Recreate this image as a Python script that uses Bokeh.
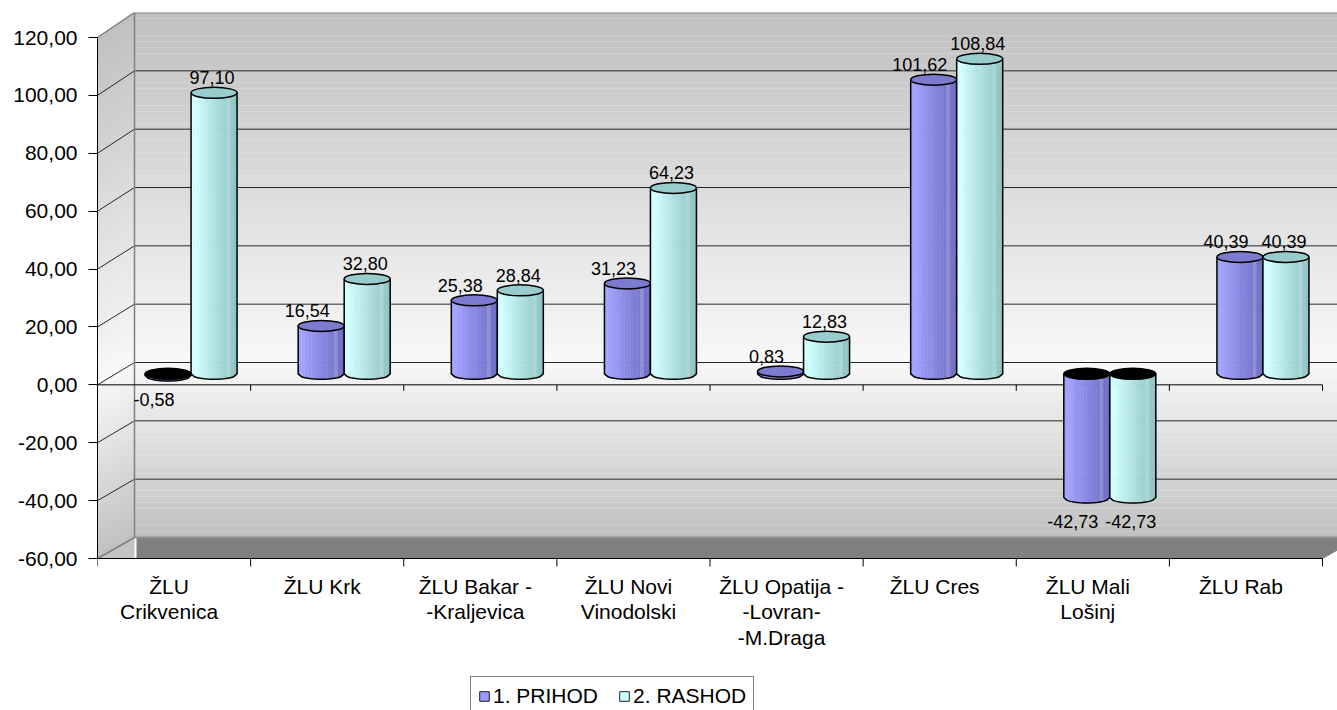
import numpy as np
from bokeh.plotting import figure
from bokeh.models import Range1d, FixedTicker, CustomJSTickFormatter, Legend, LegendItem
from bokeh.core.properties import value
from bokeh.embed import file_html
from bokeh.resources import INLINE

# ---------------- data ----------------
categories = ["ŽLU\nCrikvenica", "ŽLU Krk", "ŽLU Bakar -\n-Kraljevica", "ŽLU Novi\nVinodolski",
              "ŽLU Opatija -\n-Lovran-\n-M.Draga", "ŽLU Cres", "ŽLU Mali\nLošinj", "ŽLU Rab"]
prihod = [-0.58, 16.54, 25.38, 31.23, 0.83, 101.62, -42.73, 40.39]
rashod = [97.10, 32.80, 28.84, 64.23, 12.83, 108.84, -42.73, 40.39]
series_names = ["1. PRIHOD", "2. RASHOD"]
y_ticks = [-60, -40, -20, 0, 20, 40, 60, 80, 100, 120]

# ---------------- layout (pixels) ----------------
W, H = 1337, 710
BORDER_LEFT, BORDER_TOP = 97, 12
FRAME_W = W - BORDER_LEFT
FRAME_H = H - BORDER_TOP
PX_CAT = 153.125                 # pixels per category
Y_MIN, Y_MAX = y_ticks[0], y_ticks[-1]
PX_Y = 521.0 / (Y_MAX - Y_MIN)   # pixels per value unit (front plane)
BOTTOM_FROM_TOP = 546            # px from frame top to the front Y_MIN line
y_top = Y_MIN + BOTTOM_FROM_TOP / PX_Y
y_bot = Y_MIN - (FRAME_H - BOTTOM_FROM_TOP) / PX_Y
x_end = FRAME_W / PX_CAT
NCAT = len(categories)


def px_x(px):
    return px / PX_CAT


def px_y(px):
    return px / PX_Y


DEPTH_X = px_x(37)
BACK_PX_Y = 525.0 / (Y_MAX - Y_MIN)


def depth_y(v):
    return px_y(21 + (v - Y_MIN) * (BACK_PX_Y - PX_Y))


def grey(g):
    g = int(round(g))
    return "#%02x%02x%02x" % (g, g, g)


def wall_shade(v):
    t = v / Y_MAX if v >= 0 else -v / (-Y_MIN)
    return grey(248 - t * (248 - 192))


def hex2rgb(h):
    return tuple(int(h[i:i + 2], 16) for i in (1, 3, 5))


def lerp_hex(c0, c1, t):
    a, b = hex2rgb(c0), hex2rgb(c1)
    return "#%02x%02x%02x" % tuple(int(round(a[k] + (b[k] - a[k]) * t)) for k in range(3))


p = figure(width=W, height=H, x_range=Range1d(0, x_end), y_range=Range1d(y_bot, y_top),
           output_backend="svg", toolbar_location=None, x_axis_location=None,
           min_border_left=BORDER_LEFT, min_border_right=0, min_border_top=BORDER_TOP,
           min_border_bottom=0, title=None)
p.outline_line_color = None
p.background_fill_color = "white"
p.border_fill_color = "white"
p.grid.visible = False

# ---------------- walls ----------------
band_edges = np.linspace(Y_MIN, Y_MAX, 91)
b0, b1 = band_edges[:-1], band_edges[1:]
band_cols = [wall_shade((a + b) / 2) for a, b in zip(b0, b1)]
p.quad(left=DEPTH_X, right=x_end + 1, bottom=[a + depth_y(a) for a in b0],
       top=[b + depth_y(b) + 0.05 for b in b1], fill_color=band_cols, line_color=None)
side_xs = [[0, DEPTH_X, DEPTH_X, 0] for _ in b0]
side_ys = [[a, a + depth_y(a), b + depth_y(b), b] for a, b in zip(b0, b1)]
p.patches(side_xs, side_ys, fill_color=band_cols, line_color=band_cols, line_width=0.5)
p.patches([[0, DEPTH_X, DEPTH_X]], [[Y_MIN, Y_MIN + depth_y(Y_MIN), Y_MIN]],
          fill_color="#c4c4c4", line_color=None)
# floor
fy_back = Y_MIN + depth_y(Y_MIN)
p.patches([[DEPTH_X + px_x(2), NCAT + DEPTH_X, NCAT, DEPTH_X + px_x(2)]],
          [[fy_back, fy_back, Y_MIN, Y_MIN]],
          fill_color="#808080", line_color=None)

# grid lines
inner = [v for v in y_ticks if Y_MIN < v < Y_MAX]
p.segment(x0=DEPTH_X, x1=x_end + 1, y0=[v + depth_y(v) for v in inner],
          y1=[v + depth_y(v) for v in inner], line_color="#262626", line_width=1)
p.segment(x0=0, x1=DEPTH_X, y0=inner, y1=[v + depth_y(v) for v in inner],
          line_color="#262626", line_width=1)
edge = [Y_MIN, Y_MAX]
p.segment(x0=0, x1=DEPTH_X, y0=edge, y1=[v + depth_y(v) for v in edge],
          line_color="#808080", line_width=1.5)
p.segment(x0=DEPTH_X, x1=x_end + 1, y0=[v + depth_y(v) for v in edge],
          y1=[v + depth_y(v) for v in edge], line_color="#909090", line_width=2)
p.segment(x0=DEPTH_X, x1=DEPTH_X, y0=Y_MIN + depth_y(Y_MIN), y1=Y_MAX + depth_y(Y_MAX),
          line_color="#808080", line_width=1.5)
p.segment(x0=NCAT, x1=NCAT + DEPTH_X, y0=Y_MIN, y1=fy_back, line_color="#808080", line_width=1)

# front category axes at 0 and at the minimum
bounds = list(range(NCAT + 1))
for yv, tick_len in ((0, 6), (Y_MIN, 8)):
    p.segment(x0=0, x1=NCAT, y0=yv, y1=yv, line_color="black", line_width=1)
    p.segment(x0=bounds, x1=bounds, y0=yv, y1=yv - px_y(tick_len), line_color="black", line_width=1)

# ---------------- cylinders ----------------
BAR_W = px_x(46)
PAIR_OFF = px_x(17)
MID = px_y(11)
EH = px_y(5.5)
NSTRIP = 14
series_vals = [prihod, rashod]
body_light = ["#a2a2ff", "#d2ffff"]
body_dark = ["#6c6cc2", "#8ec2c2"]
cap_cols = ["#7b7bcf", "#99cccc"]
legend_fill = ["#9999ff", "#ccffff"]
label_shift = [px_x(-14), px_x(-2)]

label_x, label_y, label_t, label_base = [], [], [], []
for s, vals in enumerate(series_vals):
    sx, sy, sc = [], [], []
    ox, oy = [], []
    cx_, cy_, cc_ = [], [], []
    for i, v in enumerate(vals):
        pc = i + 0.5 + PAIR_OFF
        xl = pc - BAR_W if s == 0 else pc
        xr = xl + BAR_W
        xc = (xl + xr) / 2
        top_c = max(v, 0) + MID
        bot_c = min(v, 0) + MID
        xs = np.linspace(xl, xr, NSTRIP + 1)
        u = np.clip((xs - xc) / (BAR_W / 2), -1, 1)
        bots = bot_c - EH * np.sqrt(1 - u ** 2)
        for j in range(NSTRIP):
            t = (j + 0.5) / NSTRIP
            shade = max(0.0, (t - 0.12)) / 0.88
            col = lerp_hex(body_light[s], body_dark[s], shade ** 0.9)
            if j == NSTRIP - 3:
                col = lerp_hex(col, "#ffffff", 0.18)
            sx.append([xs[j], xs[j + 1], xs[j + 1], xs[j]])
            sy.append([top_c, top_c, bots[j + 1], bots[j]])
            sc.append(col)
        ox.append([xl] + list(xs) + [xr])
        oy.append([top_c] + list(bots) + [top_c])
        cx_.append(xc)
        cy_.append(top_c)
        cc_.append(cap_cols[s] if v > 0 else "black")
        label_x.append(xc + label_shift[s])
        label_t.append(f"{v:.2f}".replace(".", ","))
        if v >= 0:
            label_y.append(v + px_y(26))
            label_base.append("alphabetic")
        else:
            label_y.append(v - px_y(6))
            label_base.append("top")
    p.patches(sx, sy, fill_color=sc, line_color=sc, line_width=0.4)
    p.multi_line(ox, oy, line_color="black", line_width=1.5)
    p.ellipse(x=cx_, y=cy_, width=BAR_W, height=2 * EH, fill_color=cc_, line_color="black",
              line_width=1.5)

pos = [k for k, b in enumerate(label_base) if b == "alphabetic"]
neg = [k for k, b in enumerate(label_base) if b == "top"]
for idx, base in ((pos, "alphabetic"), (neg, "top")):
    p.text(x=[label_x[k] for k in idx], y=[label_y[k] for k in idx], text=[label_t[k] for k in idx],
           text_font=value("Liberation Sans"), text_font_size="18px", text_color="black",
           text_align="center", text_baseline=base)

# category labels
p.text(x=[i + 0.5 - px_x(5) for i in range(NCAT)], y=Y_MIN - px_y(16), text=categories,
       text_font=value("Liberation Sans"), text_font_size="21px", text_color="black",
       text_align="center", text_baseline="top", text_line_height=1.12)

# ---------------- y axis ----------------
ax = p.yaxis[0]
ax.ticker = FixedTicker(ticks=y_ticks)
ax.bounds = (Y_MIN, Y_MAX)
ax.formatter = CustomJSTickFormatter(code="return tick.toFixed(2).replace('.', ',');")
ax.major_tick_out = 9
ax.major_tick_in = 0
ax.minor_tick_line_color = None
ax.axis_line_color = "black"
ax.major_tick_line_color = "black"
ax.major_label_standoff = 11
ax.major_label_text_font = "Liberation Sans"
ax.major_label_text_font_size = "21px"
ax.major_label_text_color = "black"

# ---------------- legend ----------------
dummies = [p.quad(left=[-5], right=[-4], top=[-300], bottom=[-301], fill_color=legend_fill[s],
                  line_color="#202020", line_width=1) for s in range(2)]
legend = Legend(items=[LegendItem(label=series_names[s], renderers=[dummies[s]]) for s in range(2)],
                orientation="horizontal", location=(373, -6), margin=0, padding=7,
                glyph_width=12, glyph_height=12, label_standoff=3, spacing=20,
                label_text_font="Liberation Sans", label_text_font_size="21px",
                label_text_color="black", border_line_color="black", border_line_width=1,
                background_fill_color="white", background_fill_alpha=1.0, label_height=16)
p.add_layout(legend, "center")

open("out.html", "w").write(file_html(p, INLINE))
